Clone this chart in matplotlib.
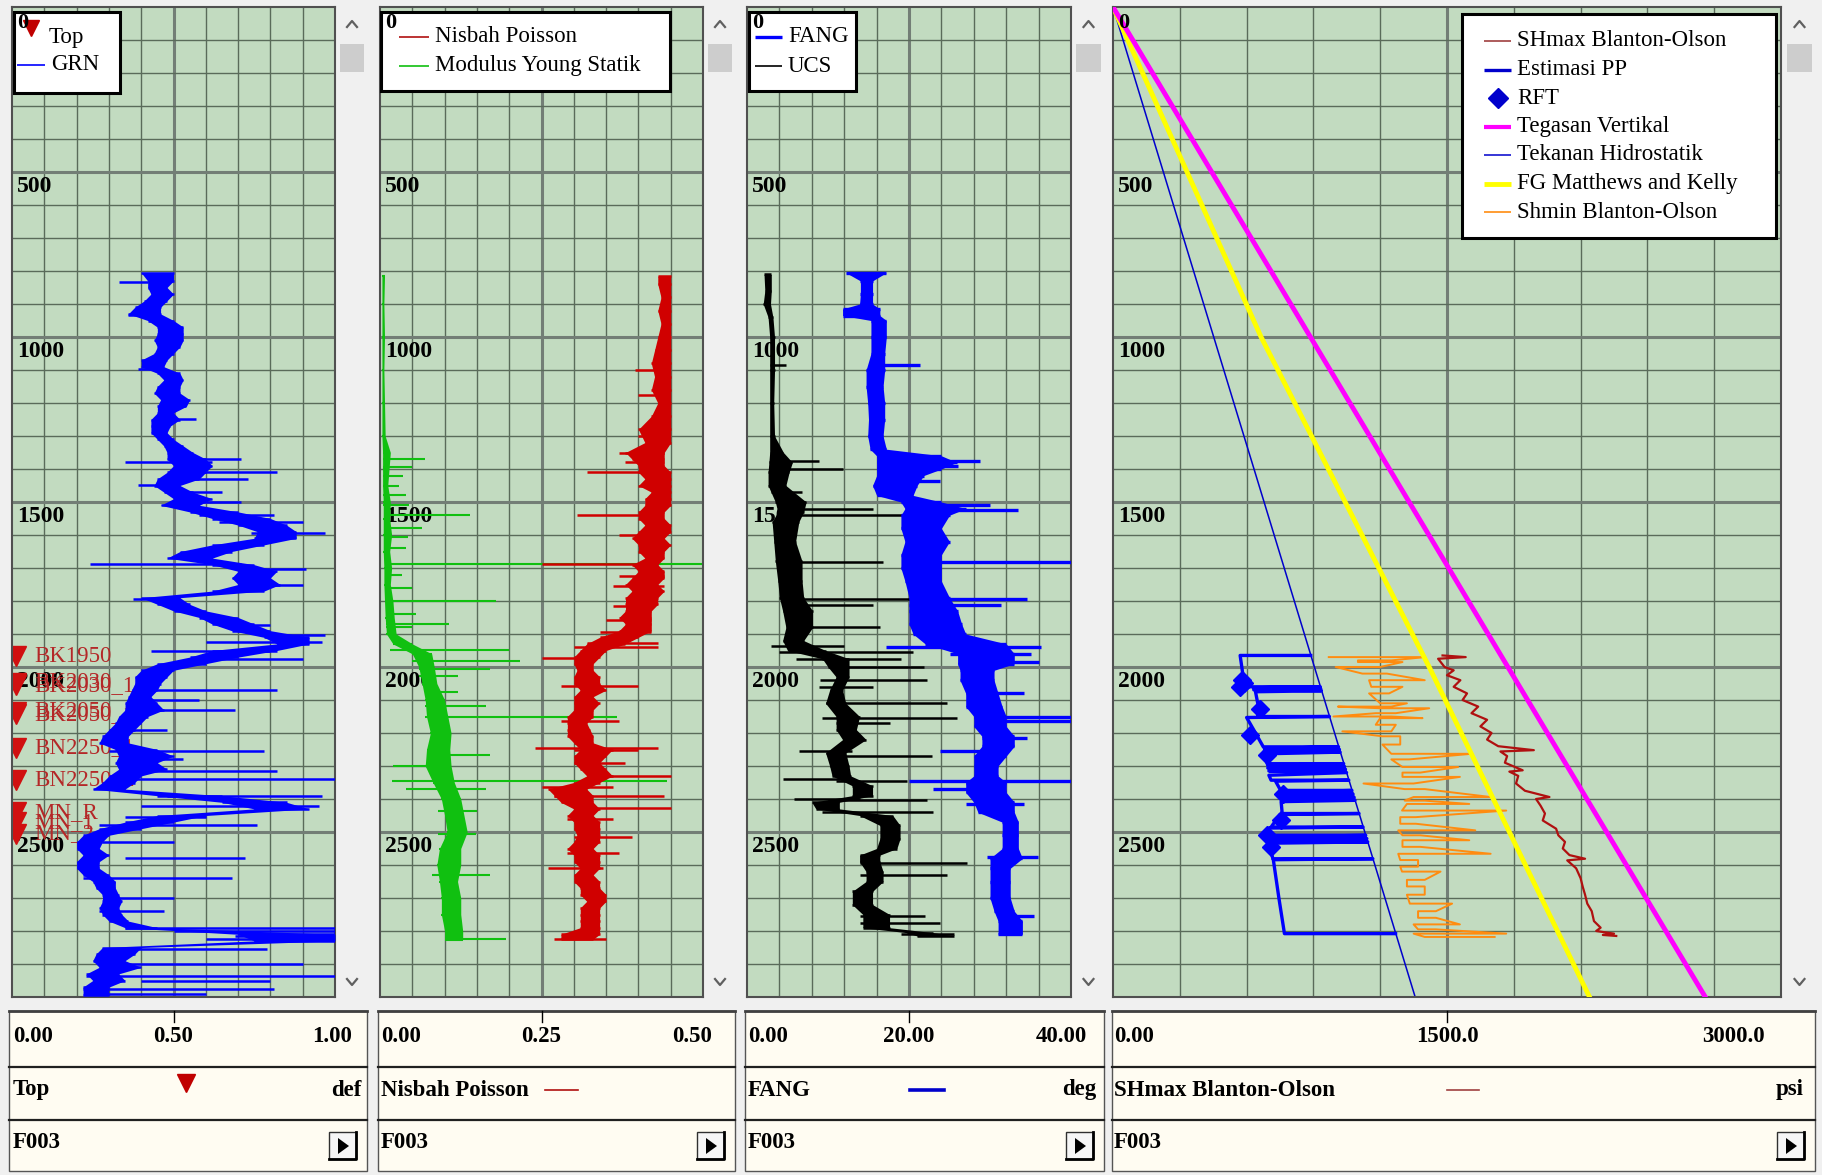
"""
    Well log panel: GRN + tops, Poisson / Young, FANG / UCS, stress profile
"""

import matplotlib
matplotlib.use("Agg")
import matplotlib.pyplot as plt
from matplotlib.patches import Rectangle, Polygon

# ---------------- data ----------------
# log curves: core band (depth, low, high) + horizontal spikes (depth, low, high)
GRN_CORE = [(805, .40, .50), (830, .42, .50), (850, .42, .48), (870, .43, .50), (890, .41, .48), (910, .38, .46),
            (930, .36, .46), (950, .42, .50), (970, .45, .53), (990, .45, .53), (1010, .44, .53), (1030, .45, .52),
            (1050, .44, .50), (1070, .40, .48), (1090, .40, .47), (1110, .45, .52), (1130, .47, .53), (1150, .45, .52),
            (1170, .44, .52), (1190, .46, .55), (1210, .45, .54), (1230, .45, .50), (1250, .43, .52), (1270, .43, .49),
            (1290, .43, .48), (1310, .45, .50), (1330, .47, .53), (1350, .48, .56), (1370, .48, .60), (1390, .50, .62),
            (1410, .48, .60), (1430, .45, .58), (1450, .44, .52), (1470, .47, .56), (1490, .50, .62), (1510, .46, .58),
            (1530, .55, .70), (1550, .62, .80), (1570, .70, .85), (1590, .76, .88), (1610, .75, .88), (1630, .62, .78),
            (1650, .52, .68), (1670, .48, .62), (1690, .62, .75), (1710, .70, .82), (1730, .68, .80), (1750, .70, .83),
            (1770, .62, .78), (1790, .40, .52), (1810, .45, .55), (1830, .50, .60), (1850, .58, .70), (1870, .62, .75),
            (1890, .68, .80), (1910, .78, .92), (1930, .82, .92), (1950, .62, .82), (1970, .55, .70), (1990, .45, .60),
            (2010, .40, .50), (2030, .38, .48), (2050, .38, .46), (2070, .37, .45), (2090, .36, .43), (2110, .35, .45),
            (2130, .35, .47), (2150, .33, .42), (2170, .32, .40), (2190, .30, .38), (2210, .28, .36), (2230, .27, .36),
            (2250, .32, .45), (2270, .33, .50), (2290, .32, .45), (2310, .33, .48), (2330, .30, .40), (2350, .28, .38),
            (2370, .25, .35), (2390, .45, .65), (2410, .65, .85), (2430, .75, .92), (2450, .45, .60), (2470, .35, .50),
            (2490, .27, .40), (2510, .22, .30), (2530, .20, .28), (2550, .20, .27), (2570, .22, .30), (2590, .20, .27),
            (2610, .20, .27), (2630, .22, .30), (2650, .25, .32), (2670, .26, .32), (2690, .28, .33), (2710, .28, .34),
            (2730, .27, .33), (2750, .28, .34), (2770, .30, .36), (2790, .35, .45), (2810, .70, 1.0), (2830, .75, 1.0),
            (2850, .28, .40), (2870, .26, .38), (2890, .25, .35), (2910, .27, .40), (2930, .23, .33), (2950, .25, .35),
            (2970, .22, .30), (2995, .22, .30)]
GRN_SPIKES = [(833, .33, .42), (934, .36, .42), (1096, .39, .45), (1247, .49, .57), (1369, .52, .71),
              (1379, .35, .62), (1409, .55, .82), (1429, .54, .73), (1449, .39, .46), (1470, .52, .65),
              (1500, .58, .71), (1540, .58, .81), (1561, .64, .90), (1595, .74, .97), (1687, .24, .71),
              (1702, .70, .91), (1753, .70, .90), (1793, .375, .50), (1874, .64, .80), (1904, .82, .97),
              (1924, .60, .96), (1950, .43, .80), (1975, .58, .90), (2070, .42, .82), (2100, .43, .58),
              (2130, .35, .69), (2190, .33, .48), (2255, .30, .78), (2280, .35, .53), (2315, .38, .82),
              (2340, .35, 1.0), (2390, .48, .96), (2420, .40, .95), (2455, .35, .60), (2480, .27, .76),
              (2530, .28, .50), (2580, .35, .72), (2640, .22, .68), (2700, .29, .50), (2740, .27, .47),
              (2790, .35, 1.0), (2800, .50, 1.0), (2815, .69, 1.0), (2825, .60, 1.0), (2855, .35, .79),
              (2900, .30, .90), (2935, .23, 1.0), (2950, .40, .80), (2975, .22, .81), (2990, .25, .60)]

TOPS = [("BK1950", 1968), ("BK2030", 2048), ("BK2030_1", 2055), ("BK2050", 2135), ("BK2050_1", 2143),
        ("BN2250_1", 2245), ("BN2250_2", 2342), ("MN_R", 2440), ("MN_1", 2470), ("MN_2", 2505)]

POISSON_CORE = [(815, .43, .45), (840, .43, .45), (880, .435, .45), (920, .43, .45), (960, .435, .45),
                (1000, .43, .45), (1040, .425, .45), (1080, .42, .45), (1120, .425, .45), (1160, .42, .45),
                (1200, .43, .45), (1240, .42, .45), (1280, .40, .45), (1320, .41, .45), (1350, .38, .44),
                (1370, .39, .44), (1390, .40, .44), (1410, .40, .45), (1430, .41, .45), (1450, .40, .45),
                (1470, .42, .45), (1490, .41, .45), (1510, .41, .45), (1530, .40, .44), (1550, .40, .44),
                (1570, .41, .45), (1590, .40, .45), (1610, .39, .44), (1630, .40, .45), (1650, .40, .44),
                (1670, .41, .44), (1690, .39, .43), (1710, .40, .44), (1730, .39, .44), (1750, .38, .43),
                (1770, .39, .44), (1790, .38, .43), (1810, .38, .43), (1830, .38, .42), (1850, .37, .42),
                (1870, .38, .42), (1890, .37, .42), (1910, .34, .40), (1930, .32, .38), (1950, .31, .35),
                (1970, .30, .34), (1990, .30, .33), (2010, .305, .33), (2030, .30, .34), (2050, .30, .34),
                (2070, .31, .35), (2090, .30, .33), (2110, .30, .34), (2130, .30, .33), (2150, .29, .33),
                (2170, .29, .32), (2190, .29, .325), (2210, .29, .33), (2230, .30, .33), (2250, .31, .36),
                (2270, .30, .35), (2290, .30, .34), (2310, .31, .35), (2330, .32, .36), (2350, .30, .34),
                (2370, .26, .32), (2390, .27, .33), (2410, .28, .33), (2430, .30, .34), (2450, .29, .33),
                (2470, .30, .34), (2490, .30, .34), (2510, .305, .34), (2530, .30, .34), (2550, .29, .33),
                (2570, .30, .34), (2590, .30, .34), (2610, .31, .34), (2630, .30, .33), (2650, .30, .34),
                (2670, .31, .34), (2690, .31, .35), (2710, .32, .35), (2730, .31, .34), (2750, .31, .34),
                (2770, .31, .34), (2790, .31, .34), (2810, .28, .34), (2825, .28, .33)]
POISSON_SPIKES = [(1100, .395, .44), (1175, .40, .44), (1300, .40, .44), (1352, .37, .44), (1380, .38, .44),
                  (1409, .32, .44), (1540, .305, .43), (1600, .37, .44), (1688, .25, .43), (1725, .37, .44),
                  (1755, .36, .44), (1815, .36, .42), (1858, .35, .42), (1895, .34, .42), (1926, .32, .43),
                  (1940, .30, .43), (1972, .25, .32), (2057, .28, .40), (2165, .28, .37), (2244, .24, .43),
                  (2250, .30, .40), (2290, .30, .38), (2330, .33, .45), (2364, .25, .36), (2390, .27, .44),
                  (2426, .31, .45), (2460, .29, .36), (2515, .30, .39), (2565, .29, .37), (2608, .26, .345),
                  (2824, .27, .35)]

YOUNG_CORE = [(815, .003, .007), (900, .003, .006), (1000, .003, .007), (1100, .003, .006), (1200, .003, .007),
              (1300, .003, .008), (1350, .004, .016), (1400, .004, .014), (1450, .004, .012), (1500, .005, .016),
              (1550, .005, .015), (1600, .005, .018), (1650, .005, .015), (1700, .006, .018), (1750, .006, .016),
              (1800, .007, .02), (1850, .008, .022), (1900, .01, .025), (1930, .02, .05), (1960, .05, .08),
              (2000, .06, .084), (2050, .065, .088), (2100, .07, .1), (2150, .072, .105), (2200, .078, .11),
              (2250, .072, .108), (2300, .07, .11), (2350, .082, .115), (2400, .095, .125), (2450, .10, .13),
              (2500, .104, .135), (2550, .092, .125), (2600, .088, .125), (2650, .092, .12), (2700, .095, .125),
              (2750, .095, .125), (2800, .10, .128), (2826, .10, .128)]
YOUNG_SPIKES = [(1370, .005, .07), (1395, .005, .05), (1420, .005, .035), (1450, .005, .03), (1480, .005, .04),
                (1510, .005, .045), (1540, .01, .14), (1580, .01, .065), (1605, .008, .044), (1640, .008, .04),
                (1688, .01, .5), (1720, .01, .034), (1760, .01, .05), (1801, .01, .18), (1840, .01, .055),
                (1870, .01, .107), (1880, .01, .05), (1949, .015, .2), (1983, .05, .216), (2005, .06, .17),
                (2028, .06, .12), (2075, .07, .12), (2119, .07, .164), (2153, .07, .367), (2267, .08, .17),
                (2300, .02, .10), (2345, .018, .445), (2369, .04, .164), (2437, .09, .15), (2506, .09, .148),
                (2630, .08, .17), (2824, .10, .195)]

UCS_CORE = [(810, 2.1, 3.0), (860, 2.2, 3.0), (900, 2.0, 2.9), (940, 2.6, 3.2), (1000, 2.8, 3.4), (1100, 2.8, 3.4),
            (1200, 2.8, 3.3), (1300, 2.8, 3.4), (1350, 2.8, 4.5), (1380, 2.7, 5.6), (1410, 2.6, 5.2),
            (1450, 2.6, 4.8), (1500, 3.5, 7.3), (1530, 3.8, 7.0), (1560, 3.1, 6.4), (1620, 3.3, 6.0),
            (1680, 3.5, 6.8), (1740, 3.8, 6.8), (1790, 4.0, 7.0), (1830, 4.4, 8.1), (1880, 4.8, 8.1),
            (1920, 4.4, 7.0), (1950, 5.0, 9.7), (1975, 9.3, 12.6), (2000, 10.0, 12.6), (2030, 11.0, 12.6),
            (2070, 10.2, 11.8), (2110, 9.7, 12.2), (2150, 11.0, 13.9), (2190, 11.0, 13.5), (2220, 11.8, 14.7),
            (2260, 9.7, 12.2), (2300, 10.2, 12.6), (2330, 10.5, 12.8), (2360, 13.0, 15.5), (2390, 13.0, 15.5),
            (2410, 8.0, 11.4), (2430, 8.5, 11.4), (2450, 13.9, 18.0), (2480, 16.4, 18.9), (2520, 16.4, 18.9),
            (2550, 16.0, 18.5), (2570, 13.9, 16.4), (2590, 13.9, 16.4), (2620, 14.7, 16.8), (2650, 14.7, 16.8),
            (2680, 13.0, 15.5), (2720, 13.0, 15.5), (2750, 14.3, 17.6), (2790, 14.3, 17.6), (2805, 19.7, 23.0),
            (2815, 21.0, 25.5)]
UCS_SPIKES = [(1086, 2.9, 4.8), (1375, 3.0, 8.9), (1400, 3.0, 11.8), (1470, 3.0, 6.8), (1520, 5.0, 15.5),
              (1540, 5.0, 19.7), (1682, 5.0, 16.8), (1793, 5.0, 20.1), (1813, 6.0, 15.5), (1880, 5.0, 16.4),
              (1935, 3.0, 12.0), (1955, 4.0, 20.5), (1975, 6.0, 19.0), (2000, 10.6, 21.8), (2040, 9.0, 22.2),
              (2060, 8.9, 15.5), (2110, 9.7, 24.7), (2155, 9.3, 25.9), (2170, 11.0, 17.6), (2255, 6.4, 13.0),
              (2270, 11.0, 22.8), (2340, 4.4, 12.0), (2345, 11.0, 19.7), (2400, 5.8, 14.0), (2403, 10.0, 22.2),
              (2440, 9.3, 23.0), (2595, 14.0, 27.2), (2630, 14.0, 24.7), (2755, 14.0, 22.0), (2775, 14.0, 23.8),
              (2810, 19.0, 25.5)]

FANG_CORE = [(805, 12.2, 17.2), (830, 14.0, 15.5), (870, 14.0, 15.5), (900, 13.9, 15.5), (915, 11.8, 16.4),
             (935, 11.8, 16.4), (950, 15.3, 17.2), (1000, 15.3, 17.2), (1050, 15.3, 17.0), (1100, 14.7, 17.0),
             (1150, 14.7, 16.8), (1200, 14.9, 17.0), (1250, 15.0, 17.0), (1300, 14.9, 16.8), (1340, 15.2, 17.2),
             (1360, 16.0, 24.0), (1380, 16.0, 25.9), (1400, 16.0, 24.0), (1420, 16.0, 21.8), (1450, 15.5, 21.0),
             (1480, 16.0, 20.5), (1500, 19.0, 24.0), (1520, 19.5, 27.0), (1540, 19.0, 25.0), (1580, 19.0, 24.0),
             (1620, 19.5, 25.0), (1660, 19.0, 24.0), (1700, 19.0, 24.0), (1740, 19.5, 24.0), (1790, 20.0, 25.0),
             (1830, 20.0, 26.0), (1870, 20.0, 26.5), (1900, 20.5, 27.0), (1930, 22.0, 32.0), (1960, 26.0, 33.0),
             (1990, 26.0, 33.0), (2010, 26.3, 30.5), (2040, 26.3, 30.5), (2080, 27.0, 31.0), (2120, 27.0, 31.5),
             (2150, 28.0, 32.0), (2180, 28.0, 32.0), (2210, 29.0, 33.0), (2240, 29.0, 33.0), (2270, 28.0, 32.0),
             (2300, 28.0, 31.0), (2330, 28.0, 31.0), (2350, 27.0, 32.0), (2380, 27.0, 32.0), (2410, 28.0, 33.0),
             (2440, 28.5, 33.0), (2470, 31.5, 33.5), (2510, 31.5, 33.5), (2550, 31.5, 33.5), (2580, 30.0, 34.0),
             (2610, 30.0, 32.5), (2650, 30.0, 32.5), (2700, 30.0, 32.5), (2740, 30.5, 33.0), (2770, 31.0, 34.0),
             (2810, 31.0, 34.0)]
FANG_SPIKES = [(1086, 16.0, 21.3), (1375, 18.0, 28.8), (1390, 18.0, 26.0), (1435, 16.0, 23.8), (1510, 20.0, 30.0),
               (1525, 20.0, 33.4), (1682, 21.0, 40.0), (1793, 21.0, 34.6), (1813, 20.0, 31.3), (1940, 17.2, 36.3),
               (1960, 25.0, 35.0), (1985, 28.0, 36.0), (2080, 28.0, 34.2), (2150, 28.0, 40.0), (2165, 29.0, 40.0),
               (2215, 29.0, 34.6), (2255, 23.8, 30.0), (2345, 20.0, 40.0), (2370, 23.0, 31.0), (2415, 27.0, 34.2),
               (2575, 29.6, 35.9), (2755, 31.0, 35.4)]

SHMIN_ROWS = [(1970, 969, 1402), (1980, 1100, 1250), (1985, 1100, 1300), (2000, 1000, 1200), (2020, 1120, 1230),
              (2040, 1150, 1400), (2060, 1160, 1300), (2080, 1150, 1240), (2110, 1200, 1320), (2120, 1010, 1250),
              (2125, 1200, 1420), (2140, 1180, 1270), (2150, 990, 1250), (2155, 1200, 1390), (2175, 1180, 1270),
              (2195, 1030, 1250), (2210, 1210, 1290), (2235, 1210, 1290), (2263, 1250, 1610), (2280, 1250, 1330),
              (2303, 1300, 1550), (2320, 1300, 1380), (2333, 1300, 1558), (2353, 1125, 1350), (2370, 1310, 1400),
              (2394, 1350, 1696), (2405, 1310, 1400), (2415, 1320, 1600), (2435, 1298, 1766), (2455, 1290, 1360),
              (2475, 1290, 1360), (2495, 1281, 1627), (2510, 1300, 1380), (2525, 1300, 1600), (2545, 1300, 1380),
              (2566, 1281, 1696), (2585, 1290, 1370), (2605, 1290, 1370), (2620, 1298, 1471), (2645, 1320, 1400),
              (2665, 1320, 1400), (2690, 1320, 1400), (2717, 1333, 1523), (2740, 1370, 1450), (2760, 1370, 1450),
              (2780, 1350, 1558), (2795, 1370, 1450), (2808, 1350, 1766), (2818, 1400, 1714)]

SHMAX = [(1965, 1480), (1970, 1584), (1975, 1460), (2000, 1489), (2010, 1530), (2025, 1500), (2040, 1560),
         (2060, 1530), (2080, 1590), (2100, 1570), (2120, 1640), (2140, 1610), (2160, 1680), (2180, 1650),
         (2200, 1700), (2220, 1680), (2240, 1730), (2252, 1890), (2256, 1740), (2270, 1770), (2290, 1760),
         (2313, 1840), (2317, 1780), (2330, 1820), (2353, 1810), (2375, 1850), (2394, 1960), (2400, 1900),
         (2420, 1920), (2444, 1940), (2465, 1930), (2490, 1990), (2510, 2000), (2530, 2030), (2550, 2020),
         (2570, 2050), (2581, 2120), (2586, 2040), (2610, 2080), (2640, 2100), (2667, 2110), (2690, 2120),
         (2717, 2130), (2740, 2150), (2770, 2160), (2790, 2190), (2800, 2170), (2808, 2250), (2812, 2200),
         (2815, 2260)]

EST_PP = [(1965, 888), (1965, 571), (2055, 590), (2060, 600), (2060, 931), (2063, 632), (2066, 933), (2069, 632),
          (2072, 936), (2075, 640), (2110, 650), (2130, 660), (2150, 650), (2150, 972), (2153, 600), (2200, 640),
          (2242, 675), (2242, 1013), (2247, 680), (2250, 1017), (2254, 680), (2258, 1020), (2263, 685), (2293, 692),
          (2293, 1036), (2298, 695), (2302, 1040), (2306, 695), (2310, 1044), (2315, 700), (2320, 1049), (2328, 700),
          (2343, 710), (2343, 1059), (2346, 730), (2374, 753), (2374, 1073), (2380, 755), (2385, 1078), (2390, 757),
          (2395, 1083), (2400, 757), (2404, 1087), (2408, 755), (2444, 760), (2444, 1105), (2447, 750), (2485, 710),
          (2485, 1123), (2488, 700), (2510, 692), (2510, 1135), (2515, 695), (2520, 1140), (2525, 695), (2530, 1144),
          (2534, 700), (2581, 718), (2581, 1167), (2584, 720), (2700, 745), (2808, 770), (2808, 1269)]

RFT = [(2040, 580), (2048, 590), (2061, 571), (2126, 658), (2207, 614), (2268, 692), (2384, 762), (2465, 753),
       (2510, 692), (2545, 710)]

TEG_VERT = [(0, 0), (3000, 2660)]
HIDROSTATIK = [(0, 0), (3000, 1357)]
FG_MK = [(0, 0), (1000, 665), (2000, 1420), (3000, 2140)]

DEPTH_LABELS = [500, 1000, 1500, 2000, 2500]
SCALES = [("0.00", "0.50", "1.00"), ("0.00", "0.25", "0.50"), ("0.00", "20.00", "40.00"), ("0.00", "1500.0", "3000.0")]
XMAX = [1.0, 0.5, 40.0, 3000.0]
TITLES = [("Top", "def"), ("Nisbah Poisson", ""), ("FANG", "deg"), ("SHmax Blanton-Olson", "psi")]


def col(rows, i):
    return [r[i] for r in rows]


def draw_log(ax, core, spikes, color, lw, z):
    ax.fill_betweenx(col(core, 0), col(core, 1), col(core, 2), color=color, lw=0, zorder=z)
    ax.hlines(col(core, 0), col(core, 1), col(core, 2), color=color, lw=lw, zorder=z)
    ax.hlines(col(spikes, 0), col(spikes, 1), col(spikes, 2), color=color, lw=lw, zorder=z)


def zigzag(rows):
    xs, ys = [], []
    for k, (d, lo, hi) in enumerate(rows):
        a, b = (lo, hi) if k % 2 == 0 else (hi, lo)
        xs += [a, b]
        ys += [d, d]
    return xs, ys


# ---------------- layout (pixels from top-left) ----------------
W, H = 1822, 1175
TOP, BOT = 7, 997
PLOTS = [(12, 335), (380, 703), (747, 1071), (1113, 1781)]
SCROLLS = [(337, 367), (705, 735), (1073, 1104), (1784, 1815)]
HEADS = [(9, 367), (378, 735), (745, 1104), (1112, 1815)]
RIGHT_LBL = [352, 712, 1087, 1765]
UNIT_X = [361, None, 1096, 1804]
FS = 16.5

plt.rcParams['font.family'] = ['Liberation Serif', 'DejaVu Serif']
BG = '#c2dbc0'
GRID = '#5a6b5a'
MAJOR = '#737e76'

fig = plt.figure(figsize=(W / 100, H / 100), dpi=100)
fig.patch.set_facecolor('#f0f0f0')

axes = []
for (x0, x1), xmax in zip(PLOTS, XMAX):
    ax = fig.add_axes([x0 / W, 1 - BOT / H, (x1 - x0) / W, (BOT - TOP) / H])
    ax.set_xlim(0, xmax)
    ax.set_ylim(3000, 0)
    ax.set_facecolor(BG)
    for k in range(1, 10):
        major = k == 5
        ax.axvline(xmax * k / 10, color=MAJOR if major else GRID, lw=2.2 if major else 1.0, zorder=0.5)
    for d in range(100, 3000, 100):
        major = d % 500 == 0
        ax.axhline(d, color=MAJOR if major else GRID, lw=2.2 if major else 1.0, zorder=0.5)
    ax.set_xticks([])
    ax.set_yticks([])
    for sp in ax.spines.values():
        sp.set_color('#505050')
        sp.set_linewidth(1.5)
    tr = ax.get_yaxis_transform()
    for d in DEPTH_LABELS:
        ax.text(5 / (x1 - x0), d + 45, str(d), transform=tr, fontsize=17, fontweight='bold',
                va='center', ha='left', zorder=1)
    axes.append(ax)

ax1, ax2, ax3, ax4 = axes

# track 1: GRN + formation tops
draw_log(ax1, GRN_CORE, GRN_SPIKES, '#0000ff', 1.8, 3)
tr = ax1.get_yaxis_transform()
for name, dep in TOPS:
    ax1.plot(0.012, dep, marker='v', color='#d01010', ms=15, transform=tr, zorder=2)
    ax1.text(0.07, dep, name, color='#b42828', fontsize=16.5, va='center', ha='left', transform=tr, zorder=1.8)

# track 2: Young + Poisson
draw_log(ax2, YOUNG_CORE, YOUNG_SPIKES, '#10c010', 1.5, 2.5)
draw_log(ax2, POISSON_CORE, POISSON_SPIKES, '#d00000', 1.8, 3)

# track 3: UCS + FANG
draw_log(ax3, UCS_CORE, UCS_SPIKES, 'black', 1.8, 2.5)
draw_log(ax3, FANG_CORE, FANG_SPIKES, '#0000ff', 2.4, 3)

# track 4: stresses
ax4.plot(col(HIDROSTATIK, 1), col(HIDROSTATIK, 0), color='#0000cc', lw=1.1, zorder=2)
ax4.plot(col(EST_PP, 1), col(EST_PP, 0), color='#0000ff', lw=2.4, zorder=3)
ax4.plot(col(RFT, 1), col(RFT, 0), 'D', color='#0000ff', ms=9, zorder=3.5)
zx, zy = zigzag(SHMIN_ROWS)
ax4.plot(zx, zy, color='#ff8c10', lw=1.4, zorder=2.5)
ax4.plot(col(SHMAX, 1), col(SHMAX, 0), color='#b01010', lw=1.6, zorder=2.5)
ax4.plot(col(FG_MK, 1), col(FG_MK, 0), color='#ffff00', lw=3.5, zorder=2.7)
ax4.plot(col(TEG_VERT, 1), col(TEG_VERT, 0), color='#ff00ff', lw=3.5, zorder=2.7)

# ---------------- overlay in pixel coordinates ----------------
ov = fig.add_axes([0, 0, 1, 1])
ov.set_xlim(0, W)
ov.set_ylim(H, 0)
ov.axis('off')
ov.set_zorder(10)


def legend_box(x0, y0, x1, y1):
    ov.add_patch(Rectangle((x0, y0), x1 - x0, y1 - y0, fc='white', ec='black', lw=2.2, zorder=5))


def entry(x, y, label, color, lw=1.2, marker=None, length=28):
    if marker:
        ov.plot(x + length / 2, y, marker=marker, color=color, ms=10, zorder=6)
    else:
        ov.plot([x, x + length], [y, y], color=color, lw=lw, zorder=6, solid_capstyle='butt')
    ov.text(x + length + 6, y, label, fontsize=FS, va='center', ha='left', zorder=6)


# legends
legend_box(14, 12, 120, 93)
ov.plot(31, 28, marker='v', color='#c00000', ms=11, zorder=6)
ov.text(49, 37, "Top", fontsize=FS, va='center', ha='left', zorder=6)
entry(17, 65, "GRN", '#0000ff', length=28)

legend_box(381, 12, 670, 91)
entry(399, 37, "Nisbah Poisson", '#b01010', length=30)
entry(399, 66, "Modulus Young Statik", '#10c010', length=30)

legend_box(749, 12, 856, 91)
entry(755, 37, "FANG", '#0000ff', lw=2.4, length=27)
entry(755, 66, "UCS", 'black', length=27)

legend_box(1462, 14, 1776, 238)
leg4 = [("SHmax Blanton-Olson", '#a04040', 1.2, None), ("Estimasi PP", '#0000cc', 2.4, None),
        ("RFT", '#0000cc', 1, 'D'), ("Tegasan Vertikal", '#ff00ff', 3.0, None),
        ("Tekanan Hidrostatik", '#0000cc', 1.1, None), ("FG Matthews and Kelly", '#ffff00', 3.5, None),
        ("Shmin Blanton-Olson", '#ff8c10', 1.2, None)]
for i, (lab, c, lw, mk) in enumerate(leg4):
    entry(1484, 41 + i * 28.5, lab, c, lw=lw, marker=mk, length=27)

# zero depth labels on top
for x0, _ in PLOTS:
    ov.text(x0 + 5, 23, "0", fontsize=16, fontweight='bold', va='center', ha='left', zorder=7)

# scrollbars
for s0, s1 in SCROLLS:
    cx = (s0 + s1) / 2
    ov.add_patch(Rectangle((s0, TOP), s1 - s0, BOT - TOP, fc='#f0f0f0', ec='none', zorder=1))
    ov.add_patch(Rectangle((s0 + 3, 44), s1 - s0 - 6, 28, fc='#cdcdcd', ec='none', zorder=2))
    ov.plot([cx - 5, cx, cx + 5], [27, 21, 27], color='#606060', lw=1.6, zorder=2)
    ov.plot([cx - 5, cx, cx + 5], [979, 985, 979], color='#606060', lw=1.6, zorder=2)

# header panels
for i, ((h0, h1), (p0, p1)) in enumerate(zip(HEADS, PLOTS)):
    ov.add_patch(Rectangle((h0, 1011), h1 - h0, 160, fc='#fffcf2', ec='#555555', lw=1.0, zorder=1))
    ov.plot([h0, h1], [1011, 1011], color='#404040', lw=2.0, zorder=2)
    ov.plot([h0, h1], [1067, 1067], color='#202020', lw=1.6, zorder=2)
    ov.plot([h0, h1], [1120, 1120], color='#202020', lw=1.6, zorder=2)
    cx = (p0 + p1) / 2
    ov.plot([cx, cx], [1011, 1022], color='black', lw=1.0, zorder=2)
    lo, mid, hi = SCALES[i]
    ov.text(p0 + 1, 1036, lo, fontsize=FS, fontweight='bold', va='center', ha='left', zorder=3)
    ov.text(cx, 1036, mid, fontsize=FS, fontweight='bold', va='center', ha='center', zorder=3)
    ov.text(RIGHT_LBL[i], 1036, hi, fontsize=FS, fontweight='bold', va='center', ha='right', zorder=3)
    name, unit = TITLES[i]
    ov.text(p0 + 1, 1090, name, fontsize=FS, fontweight='bold', va='center', ha='left', zorder=3)
    if unit:
        ov.text(UNIT_X[i], 1090, unit, fontsize=FS, fontweight='bold', va='center', ha='right', zorder=3)
    ov.text(p0 + 1, 1143, "F003", fontsize=FS, fontweight='bold', va='center', ha='left', zorder=3)
    # play button
    bx = h1 - 38
    ov.add_patch(Rectangle((bx, 1132), 27, 27, fc='#f6f6f6', ec='#303030', lw=1.0, zorder=3))
    ov.plot([bx + 27, bx + 27, bx], [1132, 1159, 1159], color='black', lw=2.0, zorder=4)
    ov.add_patch(Polygon([(bx + 9, 1138), (bx + 9, 1154), (bx + 20, 1146)], closed=True, fc='black', zorder=4))

# header symbols
ov.plot(186, 1083, marker='v', color='#c00000', ms=13, zorder=3)
ov.plot([545, 578], [1090, 1090], color='#b01010', lw=1.2, zorder=3)
ov.plot([910, 944], [1090, 1090], color='#0000cc', lw=2.6, zorder=3)
ov.plot([1447, 1479], [1090, 1090], color='#a04040', lw=1.2, zorder=3)

fig.savefig("out.png", dpi=100, facecolor=fig.get_facecolor())
